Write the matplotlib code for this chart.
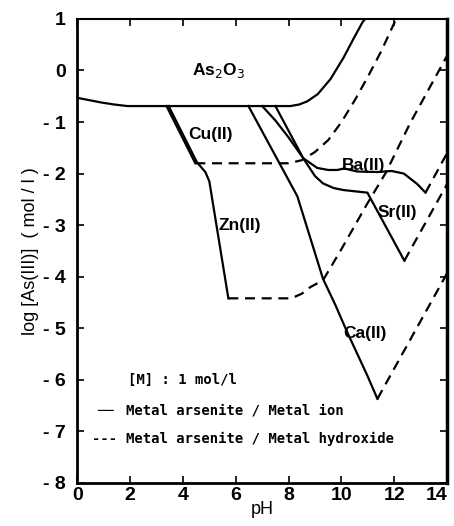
import matplotlib
matplotlib.use("Agg")
import matplotlib.pyplot as plt

# boundary of the As2O3 field
as2o3_ph = [0.0, 0.5, 0.9, 1.4, 1.9, 3.0, 5.0, 7.0, 8.07, 8.4, 8.7, 9.1, 9.58, 10.08, 10.45, 10.8, 10.9]
as2o3_log = [-0.53, -0.58, -0.62, -0.66, -0.69, -0.69, -0.69, -0.69, -0.69, -0.66, -0.6, -0.46, -0.17, 0.25, 0.61, 0.94, 1.0]

# metal arsenite / metal ion (solid)
cu_ph = [3.38, 4.47]
cu_log = [-0.69, -1.8]
zn_ph = [3.46, 4.53, 4.85, 5.0, 5.72]
zn_log = [-0.69, -1.78, -1.97, -2.15, -4.42]
ca_ph = [6.48, 8.33, 9.3, 9.77, 10.22, 10.98, 11.36]
ca_log = [-0.69, -2.44, -4.04, -4.55, -5.08, -5.92, -6.37]
ba_ph = [7.0, 7.5, 8.0, 8.55, 9.08, 9.5, 9.85, 10.1, 10.6, 11.36, 11.9, 12.36, 12.86, 13.18]
ba_log = [-0.69, -0.97, -1.3, -1.7, -1.89, -1.93, -1.93, -1.9, -1.96, -1.97, -1.95, -2.0, -2.2, -2.37]
sr_ph = [7.5, 8.55, 9.0, 9.3, 9.7, 10.08, 10.98, 12.38]
sr_log = [-0.69, -1.7, -2.05, -2.19, -2.28, -2.32, -2.37, -3.69]

# metal arsenite / metal hydroxide (dashed)
cu_h_ph = [4.47, 8.0, 8.5, 9.0, 9.5, 10.0, 10.5, 11.0, 11.5, 12.05]
cu_h_log = [-1.8, -1.8, -1.74, -1.58, -1.35, -1.0, -0.58, -0.12, 0.37, 0.98]
zn_h_ph = [5.72, 8.1, 8.5, 8.83, 9.3, 9.96, 10.98, 11.67, 12.6, 14.0]
zn_h_log = [-4.42, -4.42, -4.33, -4.2, -4.07, -3.5, -2.58, -1.99, -1.02, 0.29]
ca_h_ph = [11.36, 14.0]
ca_h_log = [-6.37, -3.93]
sr_h_ph = [12.38, 14.0]
sr_h_log = [-3.69, -2.2]
ba_h_ph = [13.18, 14.0]
ba_h_log = [-2.37, -1.6]

xticks = [0, 2, 4, 6, 8, 10, 12, 14]
yticks = [-8, -7, -6, -5, -4, -3, -2, -1, 0, 1]
ytick_labels = ["- 8", "- 7", "- 6", "- 5", "- 4", "- 3", "- 2", "- 1", "0", "1"]

cond = ["Liberation Sans", "DejaVu Sans"]
mono = ["DejaVu Sans Mono"]

fig = plt.figure(figsize=(4.54, 5.26), dpi=100)
ax = fig.add_axes([0.170, 0.082, 0.815, 0.882])

lw = 1.6
dash = (0, (4.5, 3))
ax.plot(as2o3_ph, as2o3_log, color="black", lw=lw)
for px, py in [(cu_ph, cu_log), (zn_ph, zn_log), (ca_ph, ca_log), (ba_ph, ba_log), (sr_ph, sr_log)]:
    ax.plot(px, py, color="black", lw=lw)
for px, py in [(cu_h_ph, cu_h_log), (zn_h_ph, zn_h_log), (ca_h_ph, ca_h_log),
               (sr_h_ph, sr_h_log), (ba_h_ph, ba_h_log)]:
    ax.plot(px, py, color="black", lw=lw, linestyle=dash)

ax.set_xlim(0, 14)
ax.set_ylim(-8, 1)
ax.set_xticks(xticks)
ax.set_xticklabels([str(t) for t in xticks], family=cond, fontsize=14, fontweight="bold")
ax.get_xticklabels()[-1].set_horizontalalignment("right")
ax.set_yticks(yticks)
ax.set_yticklabels(ytick_labels, family=cond, fontsize=14, fontweight="bold")
ax.tick_params(direction="in", length=5, width=1.2, top=True, right=True)
ax.tick_params(axis="x", pad=3)
ax.tick_params(axis="y", pad=8)
for side, w in [("left", 2.0), ("right", 2.5), ("bottom", 2.0), ("top", 1.5)]:
    ax.spines[side].set_linewidth(w)

ax.set_xlabel("pH", family=cond, fontsize=13, labelpad=-2)
ax.set_ylabel("log [As(III)]  ( mol / l )", family=cond, fontsize=13, labelpad=3)

lab = dict(family=cond, fontsize=12.5, fontweight="bold", ha="center", va="center")
ax.text(5.35, 0.0, "As$_2$O$_3$", **lab)
ax.text(5.05, -1.25, "Cu(II)", **lab)
ax.text(6.15, -3.0, "Zn(II)", **lab)
ax.text(10.85, -1.85, "Ba(II)", **lab)
ax.text(12.1, -2.75, "Sr(II)", **lab)
ax.text(10.9, -5.1, "Ca(II)", **lab)

leg = dict(family=mono, fontsize=10, fontweight="bold", va="center")
ax.text(1.93, -6.0, "[M] : 1 mol/l", **leg)
ax.text(0.75, -6.6, "──", **leg)
ax.text(1.83, -6.6, "Metal arsenite / Metal ion", **leg)
ax.text(0.55, -7.15, "---", **leg)
ax.text(1.83, -7.15, "Metal arsenite / Metal hydroxide", **leg)

fig.savefig("out.png", dpi=100)
